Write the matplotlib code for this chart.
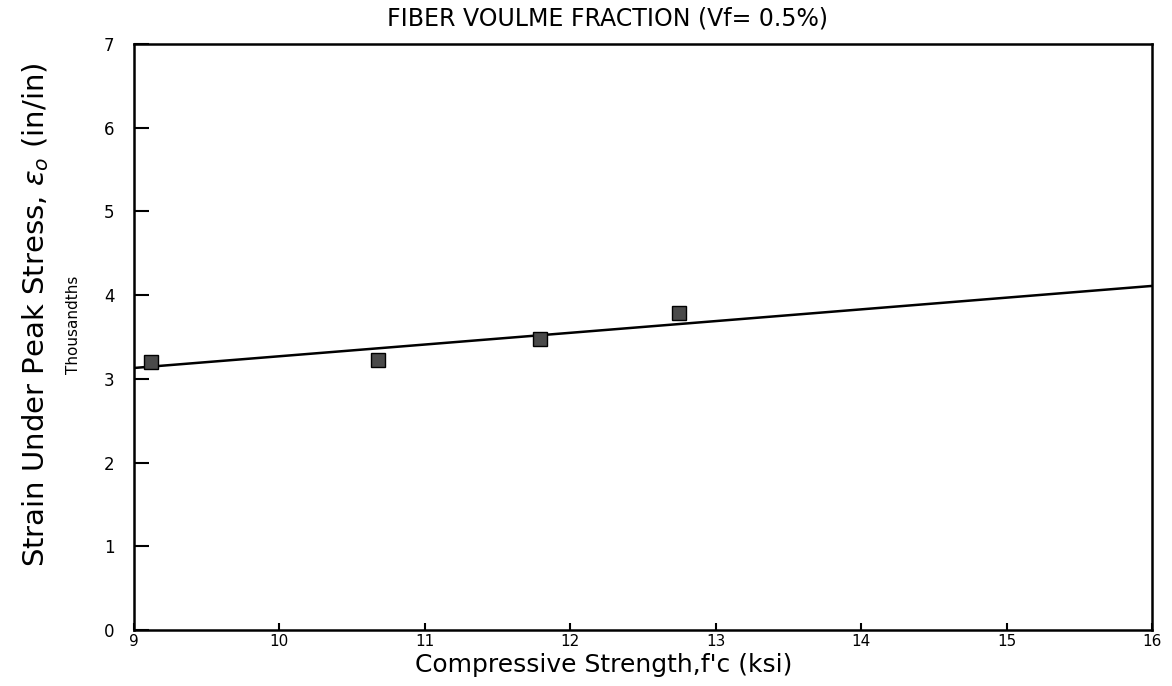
import matplotlib
matplotlib.use("Agg")
import matplotlib.pyplot as plt

# Measured peak strain vs compressive strength (Vf = 0.5%)
strength_ksi = [9.12, 10.68, 11.79, 12.75]
strain_thousandths = [3.20, 3.23, 3.48, 3.79]

# Trend line end points
fit_x = [9.0, 16.0]
fit_y = [3.13, 4.11]

x_ticks = [9, 10, 11, 12, 13, 14, 15, 16]
y_ticks = [0, 1, 2, 3, 4, 5, 6, 7]

plt.rcParams['font.family'] = ['DejaVu Sans']

fig = plt.figure(figsize=(11.72, 6.86), dpi=100)
ax = fig.add_axes([0.1143, 0.0816, 0.8686, 0.8543])

ax.plot(fit_x, fit_y, color='black', lw=1.8, zorder=2)
ax.plot(strength_ksi, strain_thousandths, ls='none', marker='s', ms=10,
        mfc='#4a4a4a', mec='black', mew=1.0, zorder=3)

ax.set_xlim(9, 16)
ax.set_ylim(0, 7)
ax.set_xticks(x_ticks)
ax.set_yticks(y_ticks)
ax.set_xticklabels([str(t) for t in x_ticks], fontsize=11)
ax.set_yticklabels([str(t) for t in y_ticks], fontsize=12)

ax.tick_params(axis='y', direction='in', length=11, width=1.5, pad=14,
               left=True, right=False)
ax.tick_params(axis='x', direction='in', length=5, width=1.5, pad=3,
               bottom=True, top=False)
for s in ax.spines.values():
    s.set_linewidth(1.8)
    s.set_color('black')

fig.text(0.518, 0.973, 'FIBER VOULME FRACTION (Vf= 0.5%)', ha='center',
         va='center', fontsize=17)
fig.text(0.515, 0.030, "Compressive Strength,f'c (ksi)", ha='center',
         va='center', fontsize=18)
fig.text(0.030, 0.541, r"Strain Under Peak Stress, $\epsilon_o$ (in/in)",
         rotation=90, ha='center', va='center', fontsize=21)
fig.text(0.063, 0.526, 'Thousandths', rotation=90, ha='center', va='center',
         fontsize=11)

fig.savefig('out.png', dpi=100)
